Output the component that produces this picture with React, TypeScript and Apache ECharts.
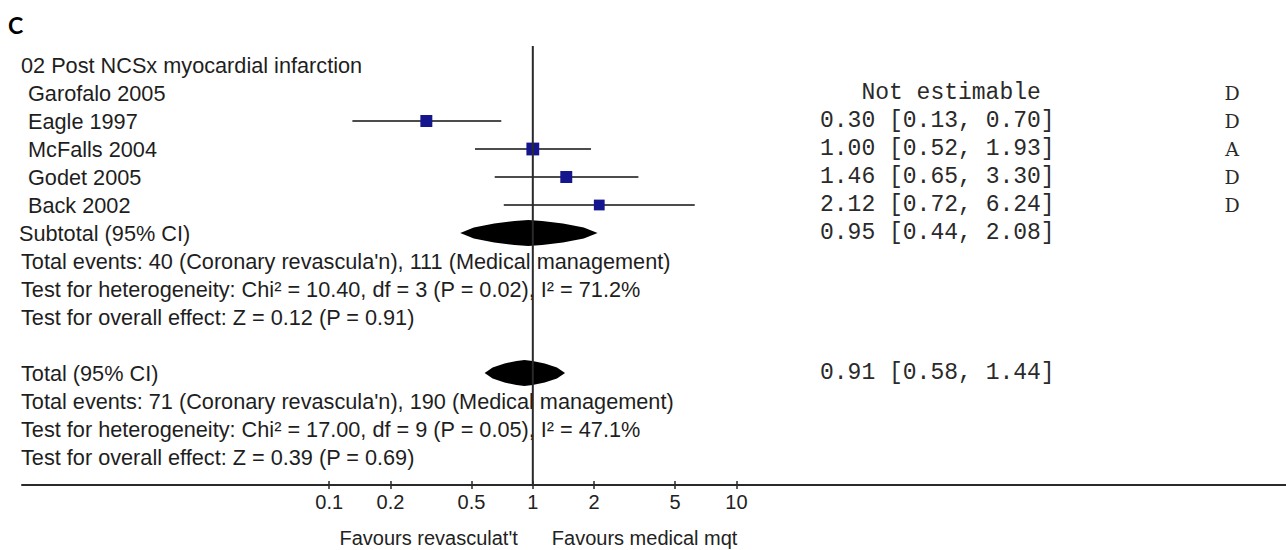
import React, { useEffect, useRef } from "react";
import * as echarts from "echarts";

// ---------- data ----------
const panelLabel = "C";
const heading = "02 Post NCSx myocardial infarction";
const studies = ["Garofalo 2005", "Eagle 1997", "McFalls 2004", "Godet 2005", "Back 2002"];
const studyEst: (number | null)[] = [null, 0.3, 1.0, 1.46, 2.12];
const studyLow: (number | null)[] = [null, 0.13, 0.52, 0.65, 0.72];
const studyHigh: (number | null)[] = [null, 0.7, 1.93, 3.3, 6.24];
const studyWeights = [0, 27, 31, 27, 22];
const studyEffectText = [
  "Not estimable",
  "0.30 [0.13, 0.70]",
  "1.00 [0.52, 1.93]",
  "1.46 [0.65, 3.30]",
  "2.12 [0.72, 6.24]",
];
const studyGrades = ["D", "D", "A", "D", "D"];

const pooledLabels = ["Subtotal (95% CI)", "Total (95% CI)"];
const pooledEst = [0.95, 0.91];
const pooledLow = [0.44, 0.58];
const pooledHigh = [2.08, 1.44];
const pooledEffectText = ["0.95 [0.44, 2.08]", "0.91 [0.58, 1.44]"];
const subtotalNotes = [
  "Total events: 40 (Coronary revascula'n), 111 (Medical management)",
  "Test for heterogeneity: Chi² = 10.40, df = 3 (P = 0.02), I² = 71.2%",
  "Test for overall effect: Z = 0.12 (P = 0.91)",
];
const totalNotes = [
  "Total events: 71 (Coronary revascula'n), 190 (Medical management)",
  "Test for heterogeneity: Chi² = 17.00, df = 9 (P = 0.05), I² = 47.1%",
  "Test for overall effect: Z = 0.39 (P = 0.69)",
];
const tickValues = [0.1, 0.2, 0.5, 1, 2, 5, 10];
const favourLabels = ["Favours revasculat't", "Favours medical mqt"];

// ---------- layout ----------
const XMIN = 0.0031;
const XMAX = 5000;
const SANS = '"Liberation Sans", Arial, sans-serif';
const MONO = '"Liberation Mono", "Courier New", monospace';
const TEXT_COLOR = "#1e1e1e";

type TextRow = { row: number; text: string; indent: number; effect?: string; effectIndent?: number; grade?: string };

function buildRows() {
  const rows: TextRow[] = [];
  rows.push({ row: 0, text: heading, indent: -1 });
  studies.forEach((s, i) => {
    rows.push({
      row: 1 + i,
      text: s,
      indent: 6,
      effect: studyEffectText[i],
      effectIndent: studyEst[i] == null ? 3 : 0,
      grade: studyGrades[i],
    });
  });
  const subRow = 1 + studies.length;
  rows.push({ row: subRow, text: pooledLabels[0], indent: -3, effect: pooledEffectText[0], effectIndent: 0 });
  subtotalNotes.forEach((t, i) => rows.push({ row: subRow + 1 + i, text: t, indent: -1 }));
  const totRow = subRow + subtotalNotes.length + 2;
  rows.push({ row: totRow, text: pooledLabels[1], indent: -1, effect: pooledEffectText[1], effectIndent: 0 });
  totalNotes.forEach((t, i) => rows.push({ row: totRow + 1 + i, text: t, indent: -1 }));
  return { rows, subRow, totRow, axisRow: totRow + totalNotes.length + 1 };
}

export default function App() {
  const ref = useRef<HTMLDivElement>(null);
  useEffect(() => {
    if (!ref.current) return;
    const chart = echarts.init(ref.current, undefined, { renderer: "svg" });
    const { rows, subRow, totRow, axisRow } = buildRows();

    const studyData = studies
      .map((_, i) =>
        studyEst[i] == null
          ? null
          : [studyEst[i], 1 + i, studyLow[i], studyHigh[i], 2.3 * Math.sqrt(studyWeights[i])]
      )
      .filter((d) => d != null);

    const pooledData = pooledEst.map((e, i) => [e, i === 0 ? subRow : totRow, pooledLow[i], pooledHigh[i]]);

    const xAxisBase = {
      type: "log",
      logBase: 10,
      min: XMIN,
      max: XMAX,
      position: "bottom",
      splitLine: { show: false },
    };

    chart.setOption({
      animation: false,
      backgroundColor: "#ffffff",
      grid: { left: 22, top: 37, width: 1264, height: 448, containLabel: false },
      xAxis: [
        {
          ...xAxisBase,
          axisLine: { show: true, onZero: false, lineStyle: { color: "#2a2a2a", width: 2 } },
          axisTick: {
            show: true,
            customValues: tickValues,
            length: 4,
            inside: false,
            lineStyle: { color: "#2a2a2a", width: 1.5 },
          },
          axisLabel: {
            show: true,
            customValues: tickValues,
            formatter: (v: number) => String(+Number(v).toPrecision(3)),
            fontSize: 20,
            fontFamily: SANS,
            color: "#222",
            margin: 7,
          },
        },
        {
          ...xAxisBase,
          axisLine: { show: false, onZero: false },
          axisTick: {
            show: true,
            customValues: tickValues,
            length: 4,
            inside: true,
            lineStyle: { color: "#2a2a2a", width: 1.5 },
          },
          axisLabel: { show: false },
        },
      ],
      yAxis: { type: "value", inverse: true, min: -1, max: axisRow, show: false },
      series: [
        {
          type: "custom",
          name: "text",
          z: 1,
          silent: true,
          data: rows.map((r) => [XMIN, r.row]),
          encode: { x: 0, y: 1 },
          renderItem: (params: any, api: any) => {
            const r = rows[params.dataIndex];
            const p = api.coord([XMIN, r.row]);
            const children: any[] = [
              {
                type: "text",
                x: p[0] + r.indent,
                y: p[1],
                style: {
                  text: r.text,
                  fontSize: 21.7,
                  fontFamily: SANS,
                  fill: TEXT_COLOR,
                  align: "left",
                  textAlign: "left",
                  verticalAlign: "middle",
                  textVerticalAlign: "middle",
                },
              },
            ];
            if (r.effect) {
              children.push({
                type: "text",
                x: 820 + (r.effectIndent || 0) * 13.8,
                y: p[1],
                style: {
                  text: r.effect,
                  fontSize: 23,
                  fontFamily: MONO,
                  fill: "#2a2a2a",
                  align: "left",
                  textAlign: "left",
                  verticalAlign: "middle",
                  textVerticalAlign: "middle",
                },
              });
            }
            if (r.grade) {
              children.push({
                type: "text",
                x: 1232,
                y: p[1],
                style: {
                  text: r.grade,
                  fontSize: 19,
                  fontFamily: '"DejaVu Serif", serif',
                  fill: "#2a2a2a",
                  align: "center",
                  textAlign: "center",
                  verticalAlign: "middle",
                  textVerticalAlign: "middle",
                },
              });
            }
            return { type: "group", children };
          },
        },
        {
          type: "custom",
          name: "studies",
          z: 3,
          silent: true,
          data: studyData,
          encode: { x: 0, y: 1 },
          renderItem: (_params: any, api: any) => {
            const row = api.value(1);
            const c = api.coord([api.value(0), row]);
            const l = api.coord([api.value(2), row]);
            const h = api.coord([api.value(3), row]);
            const sz = api.value(4);
            return {
              type: "group",
              children: [
                {
                  type: "line",
                  shape: { x1: l[0], y1: c[1], x2: h[0], y2: c[1] },
                  style: { stroke: "#111", lineWidth: 1.5 },
                },
                {
                  type: "rect",
                  shape: { x: c[0] - sz / 2, y: c[1] - sz / 2, width: sz, height: sz },
                  style: { fill: "#15158e" },
                },
              ],
            };
          },
        },
        {
          type: "custom",
          name: "pooled",
          z: 3,
          silent: true,
          data: pooledData,
          encode: { x: 0, y: 1 },
          renderItem: (_params: any, api: any) => {
            const row = api.value(1);
            const c = api.coord([api.value(0), row]);
            const l = api.coord([api.value(2), row]);
            const r = api.coord([api.value(3), row]);
            const hh = 13;
            const fr = [0.2, 0.5, 0.8];
            const gr = [0.42, 0.74, 0.93];
            const pts: number[][] = [[l[0], c[1]]];
            fr.forEach((f, i) => pts.push([l[0] + (c[0] - l[0]) * f, c[1] - hh * gr[i]]));
            pts.push([c[0], c[1] - hh]);
            [...fr].reverse().forEach((f, k) => {
              const i = fr.length - 1 - k;
              pts.push([r[0] - (r[0] - c[0]) * f, c[1] - hh * gr[i]]);
            });
            pts.push([r[0], c[1]]);
            fr.forEach((f, i) => pts.push([r[0] - (r[0] - c[0]) * f, c[1] + hh * gr[i]]));
            pts.push([c[0], c[1] + hh]);
            [...fr].reverse().forEach((f, k) => {
              const i = fr.length - 1 - k;
              pts.push([l[0] + (c[0] - l[0]) * f, c[1] + hh * gr[i]]);
            });
            return { type: "polygon", shape: { points: pts }, style: { fill: "#000" } };
          },
        },
        {
          type: "line",
          name: "no effect",
          z: 5,
          silent: true,
          symbol: "none",
          data: [
            [1, -0.68],
            [1, axisRow],
          ],
          lineStyle: { color: "#2a2a2a", width: 2 },
        },
      ],
    });

    const cx = chart.convertToPixel({ xAxisIndex: 0 }, 1) as number;
    chart.setOption({
      graphic: [
        {
          type: "text",
          x: 8,
          y: 25,
          style: {
            text: panelLabel,
            fontSize: 23,
            fontWeight: "bold",
            fontFamily: "Lato, 'Open Sans', sans-serif",
            fill: "#000",
            align: "left",
            textAlign: "left",
            verticalAlign: "middle",
            textVerticalAlign: "middle",
          },
        },
        {
          type: "text",
          x: cx - 15,
          y: 538,
          style: {
            text: favourLabels[0],
            fontSize: 20,
            fontFamily: SANS,
            fill: "#222",
            align: "right",
            textAlign: "right",
            verticalAlign: "middle",
            textVerticalAlign: "middle",
          },
        },
        {
          type: "text",
          x: cx + 19,
          y: 538,
          style: {
            text: favourLabels[1],
            fontSize: 20,
            fontFamily: SANS,
            fill: "#222",
            align: "left",
            textAlign: "left",
            verticalAlign: "middle",
            textVerticalAlign: "middle",
          },
        },
      ],
    });

    return () => chart.dispose();
  }, []);

  return (
    <div
      ref={ref}
      style={{ position: "fixed", left: 0, top: 0, width: 1286, height: 550, background: "#fff" }}
    />
  );
}
